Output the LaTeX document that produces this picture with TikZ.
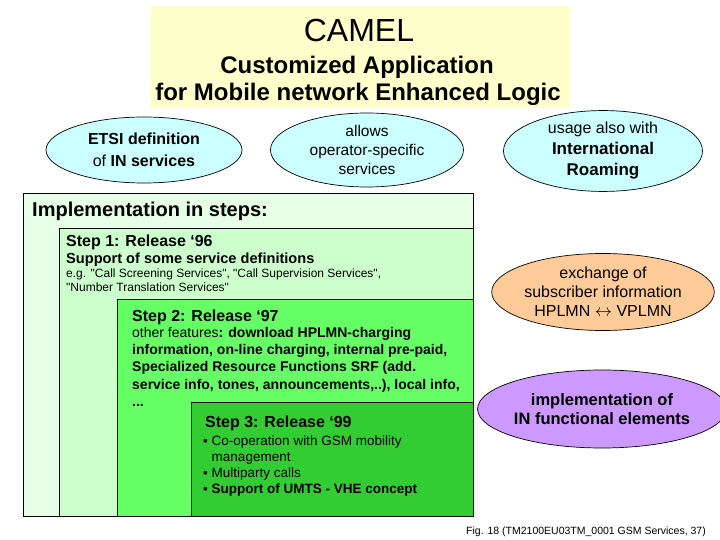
\documentclass[tikz,border=0pt]{standalone}
\usepackage{fontspec}
\setmainfont{Liberation Sans}[Ligatures=TeXOff]
\usepackage{tikz}
\usetikzlibrary{shapes.geometric}

\definecolor{titleyellow}{HTML}{FFFFCC}
\definecolor{bubblecyan}{HTML}{CCFFFF}
\definecolor{bubbleorange}{HTML}{FFCC99}
\definecolor{bubblepurple}{HTML}{CC99FF}
\definecolor{implgreen}{HTML}{E6FFE6}
\definecolor{stepone}{HTML}{CCFFCC}
\definecolor{steptwo}{HTML}{66FF66}
\definecolor{stepthree}{HTML}{33CC33}

\newcommand{\fsz}[2]{\fontsize{#1}{#2}\selectfont}

\begin{document}
\begin{tikzpicture}[x=1pt,y=-1pt,
  bubble/.style={ellipse,draw,line width=0.7pt,inner sep=0pt,align=center},
  stepbox/.style={draw,line width=0.8pt},
  txt/.style={inner sep=0pt,anchor=base west},
  txtblock/.style={inner sep=0pt,anchor=north west,align=left}]
\useasboundingbox (0,0) rectangle (720,540);

% title
\fill[titleyellow] (150,6) rectangle (570,108);
\node[inner sep=0pt,anchor=base,font=\fsz{32}{38}] (camel) at (359,42) {CAMEL};
\node[inner sep=0pt,anchor=base,font=\bfseries\fsz{24}{28}] (subone) at (357,74) {Customized Application};
\node[inner sep=0pt,anchor=base,font=\bfseries\fsz{24}{28}] (subtwo) at (358,101) {for Mobile network Enhanced Logic};

% bubbles on top
\node[bubble,fill=bubblecyan,minimum width=196,minimum height=66,font=\fsz{16}{22}] (etsi) at (144,150)
  {\textbf{ETSI definition}\\of \textbf{IN services}};
\node[bubble,fill=bubblecyan,minimum width=193,minimum height=74,font=\fsz{15.5}{19}] (allows) at (367,150)
  {allows\\operator-specific\\services};
\node[bubble,fill=bubblecyan,minimum width=199,minimum height=74,font=\fsz{16}{21}] (usage) at (603,151)
  {usage also with\\\textbf{\fsz{17}{21}International}\\\textbf{\fsz{17}{21}Roaming}};

% steps
\draw[stepbox,fill=implgreen] (23,193) rectangle (473,516);
\node[txt,font=\bfseries\fsz{20}{24}] (impl) at (32,217) {Implementation in steps:};

\draw[stepbox,fill=stepone] (59,228) rectangle (473,516);
\node[txt,font=\bfseries\fsz{16}{19}] (stepone) at (66,246) {Step 1: Release ‘96};
\node[txt,font=\bfseries\fsz{14.6}{17}] (supp) at (66,263) {Support of some service definitions};
\node[txtblock,font=\fsz{12}{14}] (examples) at (66,269)
  {e.g. "Call Screening Services", "Call Supervision Services",\\"Number Translation Services"};

\draw[stepbox,fill=steptwo] (117,299) rectangle (473,516);
\node[txt,font=\bfseries\fsz{16}{19}] (steptwo) at (132,321) {Step 2: Release ‘97};
\node[txtblock,font=\fsz{14}{17.3}] (features) at (132,327)
  {other features\textbf{: download HPLMN-charging}\\
   \textbf{information, on-line charging, internal pre-paid,}\\
   \textbf{Specialized Resource Functions SRF (add.}\\
   \textbf{service info, tones, announcements,..), local info,}\\
   \textbf{...}};

\draw[stepbox,fill=stepthree] (191,402) rectangle (473,516);
\node[txt,font=\bfseries\fsz{16}{19}] (stepthree) at (205,427) {Step 3: Release ‘99};
\node[txtblock,font=\fsz{13.5}{15.7}] (bullets) at (203,436)
  {▪ Co-operation with GSM mobility\\
   \phantom{▪ }management\\
   ▪ Multiparty calls\\
   \textbf{▪ Support of UMTS - VHE concept}};

% bubbles on the right
\node[bubble,fill=bubbleorange,minimum width=200,minimum height=77,font=\fsz{16}{19}] (exchange) at (603,292)
  {exchange of\\subscriber information\\HPLMN $\leftrightarrow$ VPLMN};
\node[bubble,fill=bubblepurple,minimum width=221,minimum height=78,font=\bfseries\fsz{16.5}{19.5}] (ifunc) at (602,409)
  {implementation of\\IN functional elements};

\node[txt,font=\fsz{10.5}{12}] (caption) at (466,534) {Fig. 18 (TM2100EU03TM\_0001 GSM Services, 37)};
\end{tikzpicture}
\end{document}
